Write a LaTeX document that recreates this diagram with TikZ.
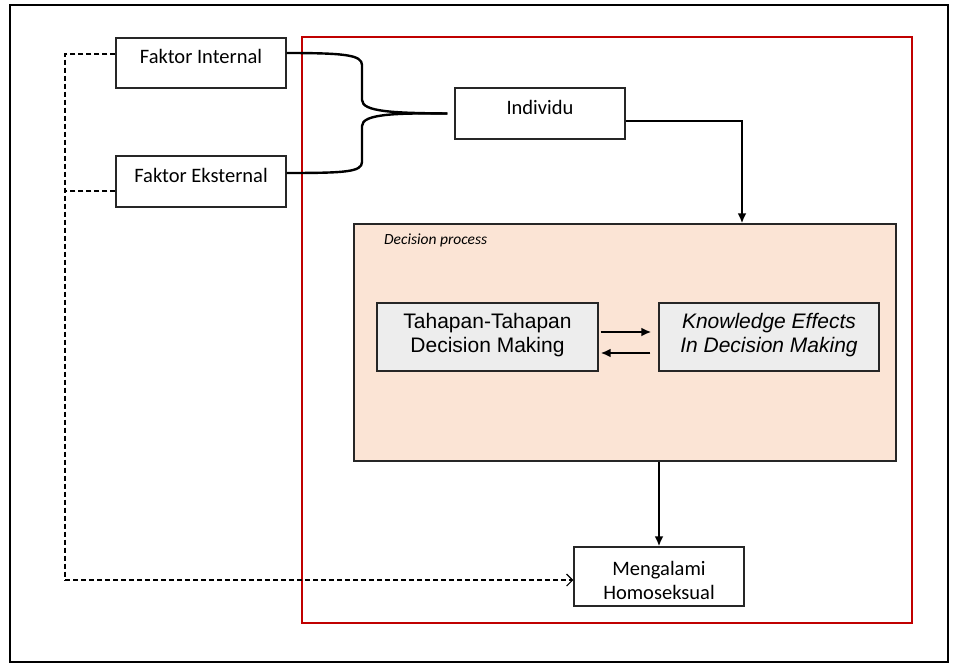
\documentclass[tikz,border=0pt]{standalone}
\usepackage{fontspec}
\setmainfont{Carlito}
\newfontfamily\arialf{Liberation Sans}
\usetikzlibrary{arrows.meta}
\definecolor{redbox}{HTML}{C00000}
\definecolor{peach}{HTML}{FBE4D5}
\definecolor{graybox}{HTML}{EDEDED}
\begin{document}
\begin{tikzpicture}[x=1pt,y=-1pt,
  plain/.style={draw=black!85,line width=1.4pt,fill=white,inner sep=0pt},
  lbl/.style={inner sep=0pt,font=\fontsize{20.5}{25}\selectfont,align=center},
  solidc/.style={draw=black,line width=2.4pt},
  dashc/.style={draw=black,line width=1.1pt,dash pattern=on 5pt off 3pt},
  tip/.style={-{Latex[length=10pt,width=9pt]}}
]
\useasboundingbox (0,0) rectangle (954,664);
% outer frame
\draw[line width=1.8pt] (10,5) rectangle (948,662);
% red box
\draw[redbox,line width=2.4pt] (302,37) rectangle (912,623);
% boxes
\node[plain,minimum width=170pt,minimum height=50pt] (fi) at (201,63) {};
\node[lbl] (fit) at (201,56) {Faktor Internal};
\node[plain,minimum width=170pt,minimum height=51pt] (fe) at (201,181.5) {};
\node[lbl] (fet) at (201,175) {Faktor Eksternal};
\node[plain,minimum width=170pt,minimum height=51pt] (ind) at (540,113.5) {};
\node[lbl] (indt) at (540,107) {Individu};
% decision process
\node[draw=black!85,line width=1.4pt,fill=peach,minimum width=542pt,minimum height=237pt,inner sep=0pt] (dp) at (625,342.5) {};
\node[inner sep=0pt,anchor=west,font=\fontsize{15.5}{18}\selectfont\itshape] (dpt) at (384,240) {Decision process};
\node[draw=black!85,line width=1.4pt,fill=graybox,minimum width=221pt,minimum height=68pt,inner sep=0pt] (th) at (487.5,337) {};
\node[inner sep=0pt,align=center,font=\arialf\fontsize{21}{24}\selectfont] (tht) at (487.5,335) {Tahapan-Tahapan\\Decision Making};
\node[draw=black!85,line width=1.4pt,fill=graybox,minimum width=220pt,minimum height=68pt,inner sep=0pt] (ke) at (769,337) {};
\node[inner sep=0pt,align=center,font=\arialf\fontsize{21}{24}\selectfont\itshape] (ket) at (769,335) {Knowledge Effects\\In Decision Making};
% Mengalami
\node[plain,minimum width=170pt,minimum height=59pt] (mh) at (659,576.5) {};
\node[lbl,font=\fontsize{20.5}{24}\selectfont] (mht) at (659,580) {Mengalami\\Homoseksual};
% coordinates for brace
\coordinate (bi) at ([yshift=10pt]fi.east);
\coordinate (be) at ([yshift=8.5pt]fe.east);
\coordinate (bm) at ([xshift=-7pt]ind.west);
\draw[solidc] (bi) .. controls (345,53) and (362,55) .. (362,65) -- (362,100)
  .. controls (362,112) and (395,113) .. (bm);
\draw[solidc] (bm) .. controls (395,113) and (362,114) .. (362,126) -- (362,162)
  .. controls (362,172) and (345,173) .. (be);
% Individu to decision process
\draw[solidc,tip] ([yshift=-7.5pt]ind.east) -| (dp.north -| 742,0);
% arrows between inner boxes
\draw[solidc,tip] ([xshift=2pt,yshift=5pt]th.east) -- ([xshift=-7pt,yshift=5pt]ke.west);
\draw[solidc,tip] ([xshift=-8pt,yshift=-16pt]ke.west) -- ([xshift=2pt,yshift=-16pt]th.east);
% decision to Mengalami
\draw[solidc,tip] (dp.south -| mh.north) -- (mh.north);
% dashed connections
\coordinate (dl) at (65,580);
\draw[dashc] ([yshift=9pt]fi.west) -| (dl);
\draw[dashc] ([yshift=-9.5pt]fe.west) -- (65,191);
\draw[dashc,-{Straight Barb[length=6pt,width=12pt,line width=1.1pt]}] (dl) -- (dl -| mh.west);
\end{tikzpicture}
\end{document}
